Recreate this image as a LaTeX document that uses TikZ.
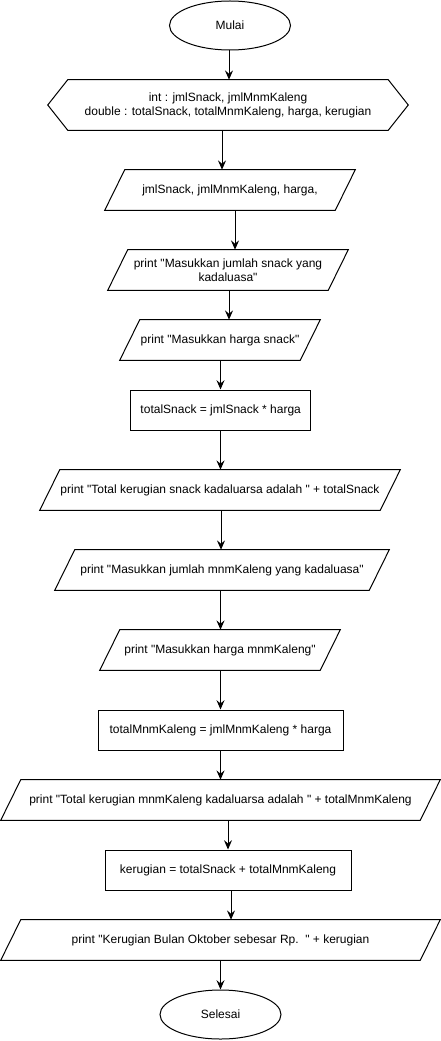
\documentclass[tikz,border=0pt]{standalone}
\usepackage{fontspec}
\setmainfont{Liberation Sans}
\newfontfamily\dfont{Liberation Sans}
\usetikzlibrary{calc,arrows.meta,shapes.geometric}
\tikzset{
  lbl/.style={font=\dfont\fontsize{9pt}{10.5pt}\selectfont, align=center, inner sep=0pt},
  box/.style={lbl, draw, line width=0.75pt, minimum height=30pt},
  band/.style={lbl, draw=none, minimum height=30pt},
  term/.style={lbl, ellipse, draw, line width=0.75pt, minimum width=90.75pt, minimum height=36.75pt},
  shapeline/.style={draw, line width=0.75pt, line join=miter},
  arr/.style={line width=0.75pt, -{Stealth[length=7pt,width=6pt,inset=2.5pt]}}
}
\newcommand\paraout[1]{\draw[shapeline] ($(#1.north west)+(10,0)$) -- ($(#1.north east)+(10,0)$) -- ($(#1.south east)+(-10,0)$) -- ($(#1.south west)+(-10,0)$) -- cycle;}
\begin{document}
\begin{tikzpicture}[x=0.75pt,y=-0.75pt]
\useasboundingbox (0,0) rectangle (441,1041);
% nodes
\node[term] (start) at (230,25.5) {Mulai};
\node[band, minimum width=240pt, minimum height=37.5pt] (hex) at (228,105) {int : jmlSnack, jmlMnmKaleng\\double : totalSnack, totalMnmKaleng, harga, kerugian};
\draw[shapeline] (hex.north west) -- (hex.north east) -- ($(hex.east)+(20,0)$) -- (hex.south east) -- (hex.south west) -- ($(hex.west)+(-20,0)$) -- cycle;
\node[band, minimum width=172.5pt] (p1) at (230,190) {jmlSnack, jmlMnmKaleng, harga,};
\paraout{p1}
\node[band, minimum width=165pt] (p2) at (228,270) {print "Masukkan jumlah snack yang\\kadaluasa"};
\paraout{p2}
\node[band, minimum width=135pt] (p3) at (220,340) {print "Masukkan harga snack"};
\paraout{p3}
\node[box, minimum width=135pt] (r1) at (220.7,410) {totalSnack = jmlSnack * harga};
\node[band, minimum width=255pt] (p5) at (220,490) {print "Total kerugian snack kadaluarsa adalah " + totalSnack};
\paraout{p5}
\node[band, minimum width=235.5pt] (p6) at (222,570) {print "Masukkan jumlah mnmKaleng yang kadaluasa"};
\paraout{p6}
\node[band, minimum width=165pt] (p7) at (220,650) {print "Masukkan harga mnmKaleng"};
\paraout{p7}
\node[box, minimum width=183.75pt] (r2) at (220.5,730) {totalMnmKaleng = jmlMnmKaleng * harga};
\node[band, minimum width=314.25pt] (p8) at (220.5,800) {print "Total kerugian mnmKaleng kadaluarsa adalah " + totalMnmKaleng};
\paraout{p8}
\node[box, minimum width=184.5pt] (r3) at (228,870) {kerugian = totalSnack + totalMnmKaleng};
\node[band, minimum width=314.25pt] (p9) at (220.5,940) {print "Kerugian Bulan Oktober sebesar Rp.\ \ " + kerugian};
\paraout{p9}
\node[term] (end) at (220.5,1014.5) {Selesai};
% arrow columns
\coordinate (c1) at (229,0);
\coordinate (c2) at (222,0);
\coordinate (c3) at (235,0);
\coordinate (c4) at (229,0);
\coordinate (c5) at (220.5,0);
\coordinate (c6) at (220.5,0);
\coordinate (c7) at (221,0);
\coordinate (c8) at (220.5,0);
\coordinate (c9) at (220.5,0);
\coordinate (c10) at (220.5,0);
\coordinate (c11) at (228,0);
\coordinate (c12) at (231,0);
\coordinate (c13) at (220.5,0);
% connectors
\draw[arr] (c1 |- start.south) -- (c1 |- hex.north);
\draw[arr] (c2 |- hex.south) -- (c2 |- p1.north);
\draw[arr] (c3 |- p1.south) -- (c3 |- p2.north);
\draw[arr] (c4 |- p2.south) -- (c4 |- p3.north);
\draw[arr] (c5 |- p3.south) -- (c5 |- r1.north);
\draw[arr] (c6 |- r1.south) -- (c6 |- p5.north);
\draw[arr] (c7 |- p5.south) -- (c7 |- p6.north);
\draw[arr] (c8 |- p6.south) -- (c8 |- p7.north);
\draw[arr] (c9 |- p7.south) -- (c9 |- r2.north);
\draw[arr] (c10 |- r2.south) -- (c10 |- p8.north);
\draw[arr] (c11 |- p8.south) -- (c11 |- r3.north);
\draw[arr] (c12 |- r3.south) -- (c12 |- p9.north);
\draw[arr] (c13 |- p9.south) -- (c13 |- end.north);
\end{tikzpicture}
\end{document}
